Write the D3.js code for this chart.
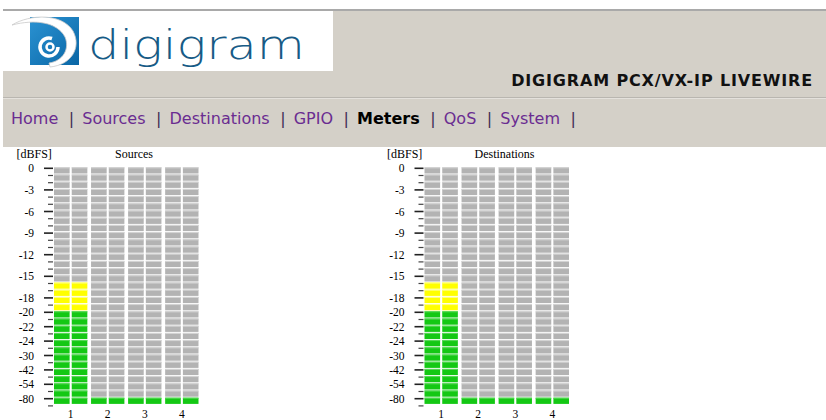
<!DOCTYPE html>
<html>
<head>
<meta charset="utf-8">
<script src="https://cdn.jsdelivr.net/npm/d3@7"></script>
<style>
  html, body { margin: 0; padding: 0; background: #fff; }
  svg { display: block; }
</style>
</head>
<body>
<svg id="page"></svg>
<script>
// Meter data
const scaleLabels = ["0", "-3", "-6", "-9", "-12", "-15", "-18", "-20", "-22", "-24", "-30", "-42", "-54", "-80"];
const scaleSegments = [0, 3, 6, 9, 12, 15, 18, 20, 22, 24, 26, 28, 30, 32];
const segmentCount = 33;
const channels = ["1", "2", "3", "4"];
const sides = ["L", "R"];
const sourceLevels = [-16, -16, -80, -80, -80, -80, -80, -80];
const destinationLevels = [-16, -16, -80, -80, -80, -80, -80, -80];
const navItems = ["Home", "Sources", "Destinations", "GPIO", "Meters", "QoS", "System"];
const activeItem = "Meters";

const W = 826, H = 420;
const svg = d3.select("#page").attr("width", W).attr("height", H);

// ---- header ----
svg.append("rect").attr("x", 3).attr("y", 9).attr("width", W).attr("height", 2).attr("fill", "#a9a9a9");
svg.append("rect").attr("x", 3).attr("y", 11).attr("width", W).attr("height", 136).attr("fill", "#d4d0c8");
svg.append("rect").attr("x", 3).attr("y", 97).attr("width", W).attr("height", 1).attr("fill", "#b9b6b0");
svg.append("rect").attr("x", 3).attr("y", 98).attr("width", W).attr("height", 1).attr("fill", "#e4e1dc");
svg.append("rect").attr("x", 3).attr("y", 11).attr("width", 330).attr("height", 60).attr("fill", "#fff");

// logo
const defs = svg.append("defs");
const grad = defs.append("linearGradient").attr("id", "blue").attr("x1", 0).attr("y1", 0).attr("x2", 1).attr("y2", 1);
grad.append("stop").attr("offset", 0).attr("stop-color", "#2b93d3");
grad.append("stop").attr("offset", 1).attr("stop-color", "#0a66a5");
const logo = svg.append("g");
logo.append("rect").attr("x", 30).attr("y", 17).attr("width", 49).attr("height", 48).attr("fill", "url(#blue)");
logo.append("path")
  .attr("d", "M12,25 C30,14 62,13 73,31 C82,48 71,65 50,67 L49,63 C63,61 70,49 65,37 C57,22 35,19 12,25 Z")
  .attr("fill", "#fff").attr("stroke", "#c9c9c9").attr("stroke-width", 0.8);
logo.append("path")
  .attr("d", "M58,47 A9,9 0 1 1 52,38.5")
  .attr("fill", "none").attr("stroke", "#fff").attr("stroke-width", 3.5);
logo.append("circle").attr("cx", 50).attr("cy", 47).attr("r", 3.5)
  .attr("fill", "none").attr("stroke", "#fff").attr("stroke-width", 2.5);
logo.append("text").attr("x", 88).attr("y", 59)
  .attr("textLength", 217).attr("lengthAdjust", "spacingAndGlyphs")
  .style("font-family", "'DejaVu Sans', 'Open Sans', sans-serif").style("font-size", "40px")
  .style("font-weight", 200)
  .attr("fill", "#175b86").text("digigram");

svg.append("text").attr("x", 813).attr("y", 86).attr("text-anchor", "end")
  .style("font-family", "'DejaVu Sans', Verdana, sans-serif").style("font-size", "16px").style("font-weight", "bold")
  .style("letter-spacing", "0.85px")
  .attr("fill", "#111").text("DIGIGRAM PCX/VX-IP LIVEWIRE");

// nav
const nav = svg.append("g").style("font-family", "'DejaVu Sans', Verdana, sans-serif").style("font-size", "16px");
let nx = 11;
navItems.forEach(name => {
  const t = nav.append("text").attr("x", nx).attr("y", 124)
    .attr("fill", name === activeItem ? "#000" : "#6a2c91")
    .style("font-weight", name === activeItem ? "bold" : "normal")
    .text(name);
  nx += t.node().getComputedTextLength() + 10.5;
  nav.append("text").attr("x", nx).attr("y", 124).attr("fill", "#3f2d55").text("|");
  nx += 13.5;
});

// ---- meters ----
const dbToSeg = d3.scaleLinear().domain(scaleLabels.map(Number)).range(scaleSegments);
const yScale = d3.scaleLinear().domain([0, segmentCount]).range([167.3, 167.3 + 7.2 * segmentCount]);
const xChan = d3.scaleBand().domain(channels).range([54, 198.5]).paddingInner(0.1);
const xSide = d3.scaleBand().domain(sides).range([0, xChan.bandwidth()]).paddingInner(0.12);

function segColor(i, lit) {
  if (!lit) return ["#b3b3b3", "#d6d6d6"];
  if (i >= dbToSeg(-20)) return ["#14c814", "#5cd95c"];
  if (i >= dbToSeg(-6)) return ["#ffff00", "#ffff8c"];
  return ["#ff2020", "#ff8080"];
}

function drawPanel(offsetX, title, levels) {
  const g = svg.append("g").attr("transform", `translate(${offsetX},0)`);
  const serif = "'Liberation Serif', 'Times New Roman', serif";

  g.append("text").attr("x", 16.5).attr("y", 158).style("font-family", serif).style("font-size", "12px")
    .attr("fill", "#000").text("[dBFS]");
  g.append("text").attr("x", 134).attr("y", 158).attr("text-anchor", "middle")
    .style("font-family", serif).style("font-size", "12px").attr("fill", "#000").text(title);

  // ticks
  const ticks = d3.range(segmentCount + 1);
  g.selectAll(".tick").data(ticks).join("line")
    .attr("x1", i => scaleSegments.includes(i) ? 44 : 48)
    .attr("x2", 53)
    .attr("y1", i => yScale(i) + 1).attr("y2", i => yScale(i) + 1)
    .attr("stroke", i => scaleSegments.includes(i) ? "#222" : "#444")
    .attr("stroke-width", i => scaleSegments.includes(i) ? 1.6 : 1.2);

  g.selectAll(".lbl").data(scaleLabels).join("text")
    .attr("x", 34).attr("y", (d, i) => yScale(scaleSegments[i]) + 5)
    .attr("text-anchor", "end")
    .style("font-family", serif).style("font-size", "11.5px").attr("fill", "#000")
    .text(d => d);

  const cells = [];
  channels.forEach((c, ci) => sides.forEach((s, si) => {
    const level = levels[ci * 2 + si];
    d3.range(segmentCount).forEach(i => cells.push({ c, s, i, lit: i >= dbToSeg(level) }));
  }));
  const cg = g.selectAll(".cell").data(cells).join("g")
    .attr("transform", d => `translate(${xChan(d.c) + xSide(d.s)},${yScale(d.i)})`);
  cg.append("rect").attr("width", xSide.bandwidth()).attr("height", 6.2)
    .attr("fill", d => segColor(d.i, d.lit)[0]);
  cg.append("rect").attr("width", xSide.bandwidth()).attr("height", 1)
    .attr("fill", d => segColor(d.i, d.lit)[1]);

  g.selectAll(".chan").data(channels).join("text")
    .attr("x", d => xChan(d) + xChan.bandwidth() / 2).attr("y", 418)
    .attr("text-anchor", "middle")
    .style("font-family", serif).style("font-size", "11.5px").attr("fill", "#000")
    .text(d => d);
}

drawPanel(0, "Sources", sourceLevels);
drawPanel(370.5, "Destinations", destinationLevels);
</script>
</body>
</html>
